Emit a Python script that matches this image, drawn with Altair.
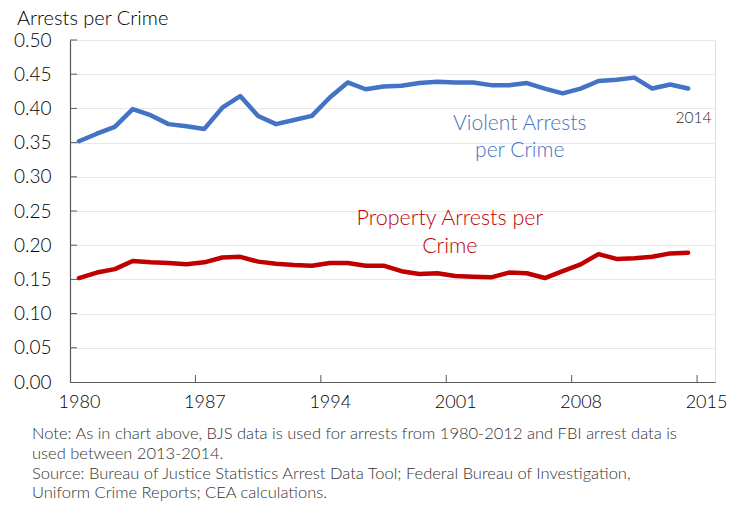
import altair as alt
import pandas as pd

# ---- data ----
years = list(range(1980, 2015))
violent = [0.352, 0.363, 0.373, 0.399, 0.390, 0.377, 0.374, 0.370, 0.401, 0.418,
           0.389, 0.377, 0.383, 0.389, 0.416, 0.438, 0.428, 0.432, 0.433, 0.437,
           0.439, 0.438, 0.438, 0.434, 0.434, 0.437, 0.429, 0.422, 0.429, 0.440,
           0.442, 0.445, 0.429, 0.435, 0.429]
property_ = [0.152, 0.160, 0.165, 0.177, 0.175, 0.174, 0.172, 0.175, 0.182, 0.183,
             0.176, 0.173, 0.171, 0.170, 0.174, 0.174, 0.170, 0.170, 0.162, 0.158,
             0.159, 0.155, 0.154, 0.153, 0.160, 0.159, 0.152, 0.162, 0.172, 0.187,
             0.180, 0.181, 0.183, 0.188, 0.189]
series_names = ["Violent", "Property"]
series_colors = ["#4472C4", "#C00000"]

x_label_years = [1980, 1987, 1994, 2001, 2008, 2015]
x_tick_bounds = [1986.5, 1993.5, 2000.5, 2007.5, 2014.5]
y_tick_values = [0.0, 0.05, 0.10, 0.15, 0.20, 0.25, 0.30, 0.35, 0.40, 0.45, 0.50]

title_text = "Arrests per Crime"
note_lines = [
    "Note: As in chart above, BJS data is used for arrests from 1980-2012 and FBI arrest data is",
    "used between 2013-2014.",
    "Source: Bureau of Justice Statistics Arrest Data Tool; Federal Bureau of Investigation,",
    "Uniform Crime Reports; CEA calculations.",
]
note_y = [394, 414, 434, 453]

labels = pd.DataFrame({
    "year": [2004.6, 2000.7, 2014.3],
    "value": [0.377, 0.238, 0.386],
    "text": [["Violent Arrests", "per Crime"], ["Property Arrests per", "Crime"], ["2014"]],
    "series": ["Violent", "Property", "Year"],
})

FONT = "Lato"
W, H = 645, 342

df = pd.DataFrame({
    "year": years * 2,
    "value": violent + property_,
    "series": ["Violent"] * len(years) + ["Property"] * len(years),
})

xscale = alt.Scale(domain=[1979.5, 2015.5], nice=False, zero=False)
yscale = alt.Scale(domain=[0, 0.5], nice=False, zero=True)

x_axis = alt.Axis(values=x_label_years, format="d", title=None, grid=False,
                  ticks=False, labelFlush=False, labelOverlap=False,
                  labelFontSize=18, labelFont=FONT, labelFontWeight=300,
                  labelColor="#000000",
                  labelPadding=11, domainColor="#595959", domainWidth=1.2)
y_axis = alt.Axis(values=y_tick_values, format=".2f", title=None, grid=True,
                  gridColor="#e8e8e8", gridWidth=1, ticks=False,
                  labelOverlap=False, labelFlush=False,
                  labelFontSize=19, labelFont=FONT, labelFontWeight=300,
                  labelColor="#000000",
                  labelPadding=19, domainColor="#595959", domainWidth=1.2)


def X(field):
    return alt.X(field, type="quantitative", scale=xscale, axis=x_axis)


def Y(field):
    return alt.Y(field, type="quantitative", scale=yscale, axis=y_axis)


lines = alt.Chart(df).mark_line(strokeWidth=4.5, strokeJoin="round", strokeCap="round").encode(
    x=X("year"), y=Y("value"),
    color=alt.Color("series:N", scale=alt.Scale(domain=series_names, range=series_colors), legend=None),
)

xticks = alt.Chart(pd.DataFrame({"year": x_tick_bounds})).mark_rule(color="#595959", strokeWidth=1).encode(
    x=X("year"), y=alt.value(H - 7), y2=alt.value(H))

yticks = alt.Chart(pd.DataFrame({"value": y_tick_values[1:]})).mark_rule(color="#595959", strokeWidth=1).encode(
    y=Y("value"), x=alt.value(0), x2=alt.value(7))

violent_lab = alt.Chart(labels[labels.series == "Violent"]).mark_text(
    font=FONT, fontSize=21, fontWeight=300, color="#4472C4", lineHeight=27,
    baseline="middle", align="center").encode(x=X("year"), y=Y("value"), text="text")

prop_lab = alt.Chart(labels[labels.series == "Property"]).mark_text(
    font=FONT, fontSize=21.5, fontWeight=300, color="#C00000", lineHeight=28,
    baseline="middle", align="center").encode(x=X("year"), y=Y("value"), text="text")

year_lab = alt.Chart(labels[labels.series == "Year"]).mark_text(
    font=FONT, fontSize=15.5, fontWeight=300, color="#262626", baseline="middle",
    align="center").encode(x=X("year"), y=Y("value"), text="text")

title = alt.Chart(pd.DataFrame({"t": [title_text]})).mark_text(
    font=FONT, fontSize=20, fontWeight=300, color="#000000", align="left", baseline="alphabetic").encode(
    x=alt.value(-53), y=alt.value(-15.5), text="t")

notes = []
for line, yy in zip(note_lines, note_y):
    notes.append(alt.Chart(pd.DataFrame({"t": [line]})).mark_text(
        font=FONT, fontSize=16.5, fontWeight=300, color="#333333", align="left", baseline="middle").encode(
        x=alt.value(-38), y=alt.value(yy), text="t"))

chart = alt.layer(lines, xticks, yticks, violent_lab, prop_lab, year_lab, title, *notes).properties(
    width=W, height=H,
    autosize=alt.AutoSizeParams(type="none"),
    padding={"left": 62, "top": 32, "right": 12, "bottom": 120},
).configure_view(stroke="#8c8c8c", strokeWidth=1).configure(background="white")

chart.save("out.html", embed_options={"renderer": "svg", "actions": False})
